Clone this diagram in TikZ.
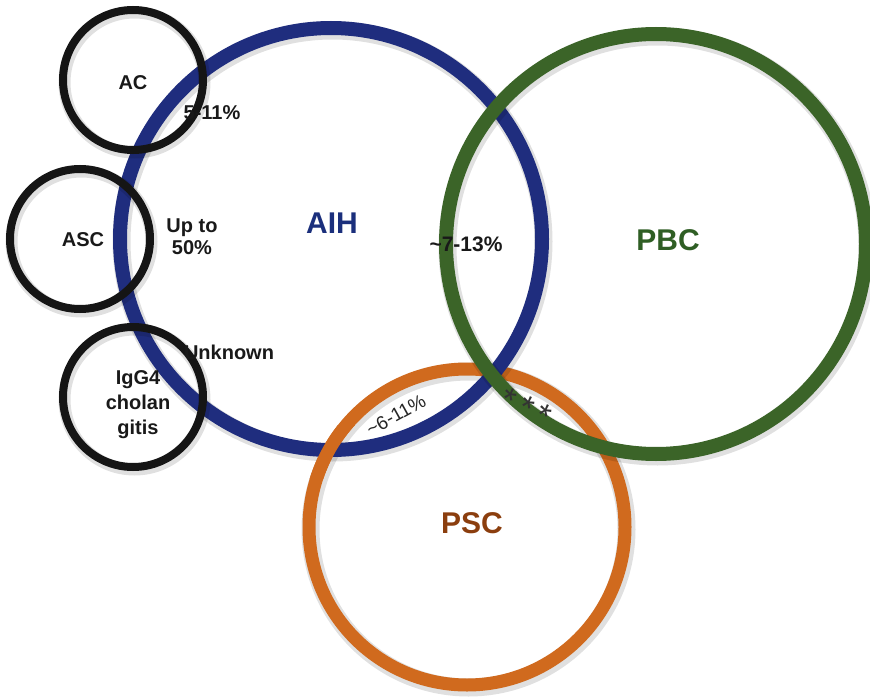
\documentclass[tikz,border=0pt]{standalone}
\usepackage{fontspec}
\setmainfont{Liberation Sans}
\usetikzlibrary{calc}
\definecolor{aihblue}{HTML}{1F2D7E}
\definecolor{aihtext}{HTML}{1B2F7C}
\definecolor{pbcgreen}{HTML}{3B6428}
\definecolor{pbctext}{HTML}{2F5E24}
\definecolor{pscorange}{HTML}{D06A1E}
\definecolor{psctext}{HTML}{8B3E0E}
\definecolor{ringblack}{HTML}{151515}
\begin{document}
\begin{tikzpicture}[x=1pt,y=-1pt,
  lab/.style={font=\fontsize{20}{22}\selectfont\bfseries, text=black!90, inner sep=0pt, align=center},
  big/.style={font=\fontsize{30}{32}\selectfont\bfseries, inner sep=0pt},
  thin/.style={font=\fontsize{19}{21}\selectfont, text=black!85, inner sep=0pt},
  ring/.style={circle, draw=#1, inner sep=0pt, fill=none},
  bigring/.style={ring=#1, line width=14pt},
  smallring/.style={ring=#1, line width=8pt},
  shade/.style={draw=black, opacity=0.12, line width=#1}
]
\useasboundingbox (0,0) rectangle (870,698);
\fill[white] (0,0) rectangle (870,698);

% ring centres
\coordinate (cpsc) at (467,527);
\coordinate (caih) at (331,239);
\coordinate (cpbc) at (656,244);
\coordinate (cac) at (133,80);
\coordinate (casc) at (80,239);
\coordinate (cigg) at (133,397);

% soft drop shadows and rings
\draw[shade=18pt] ($(cpsc)+(1.5,2.5)$) circle[radius=158];
\node[bigring=pscorange, line width=13pt, minimum size=316pt] (psc) at (cpsc) {};

\draw[shade=18pt] ($(caih)+(1.5,2.5)$) circle[radius=211];
\node[bigring=aihblue, minimum size=422pt] (aih) at (caih) {};

% orange passes over blue at the left crossing
\begin{scope}
  \clip (295,425) rectangle (360,478);
  \node[bigring=pscorange, line width=13pt, minimum size=316pt] (pscover) at (cpsc) {};
\end{scope}

\draw[shade=18pt] ($(cpbc)+(1.5,2.5)$) circle[radius=210];
\node[bigring=pbcgreen, minimum size=420pt] (pbc) at (cpbc) {};

\foreach \c in {cac,casc,cigg}
  \draw[shade=12pt] ($(\c)+(1.5,2.5)$) circle[radius=70];
\node[smallring=ringblack, minimum size=140pt] (ac) at (cac) {};
\node[smallring=ringblack, minimum size=140pt] (asc) at (casc) {};
\node[smallring=ringblack, minimum size=140pt] (igg) at (cigg) {};

% labels
\node[lab] (acl) at (133,83) {AC};
\node[lab] (pcac) at (212,113) {5-11\%};
\node[lab] (upto) at (192,237) {Up to\\50\%};
\node[lab] (ascl) at (83,240) {ASC};
\node[lab] (unk) at (229,352) {Unknown};
\node[lab, font=\fontsize{20}{25}\selectfont\bfseries] (iggl) at (138,405) {IgG4\\cholan\\gitis};
\node[big, text=aihtext] (aihl) at (332,223) {AIH};
\node[lab, font=\fontsize{21}{23}\selectfont\bfseries] (pcpbc) at (466,244) {\textasciitilde7-13\%};
\node[big, text=pbctext] (pbcl) at (668,240) {PBC};
\node[big, text=psctext] (pscl) at (472,523) {PSC};
\node[thin, rotate=29] (pcpsc) at (396,415) {\textasciitilde6-11\%};

% marker on the PBC/PSC overlap
\node[thin, font=\fontsize{34}{36}\selectfont, text=black!80, rotate=-25] (stars) at (526,408) {*\,*\,*};
\end{tikzpicture}
\end{document}
